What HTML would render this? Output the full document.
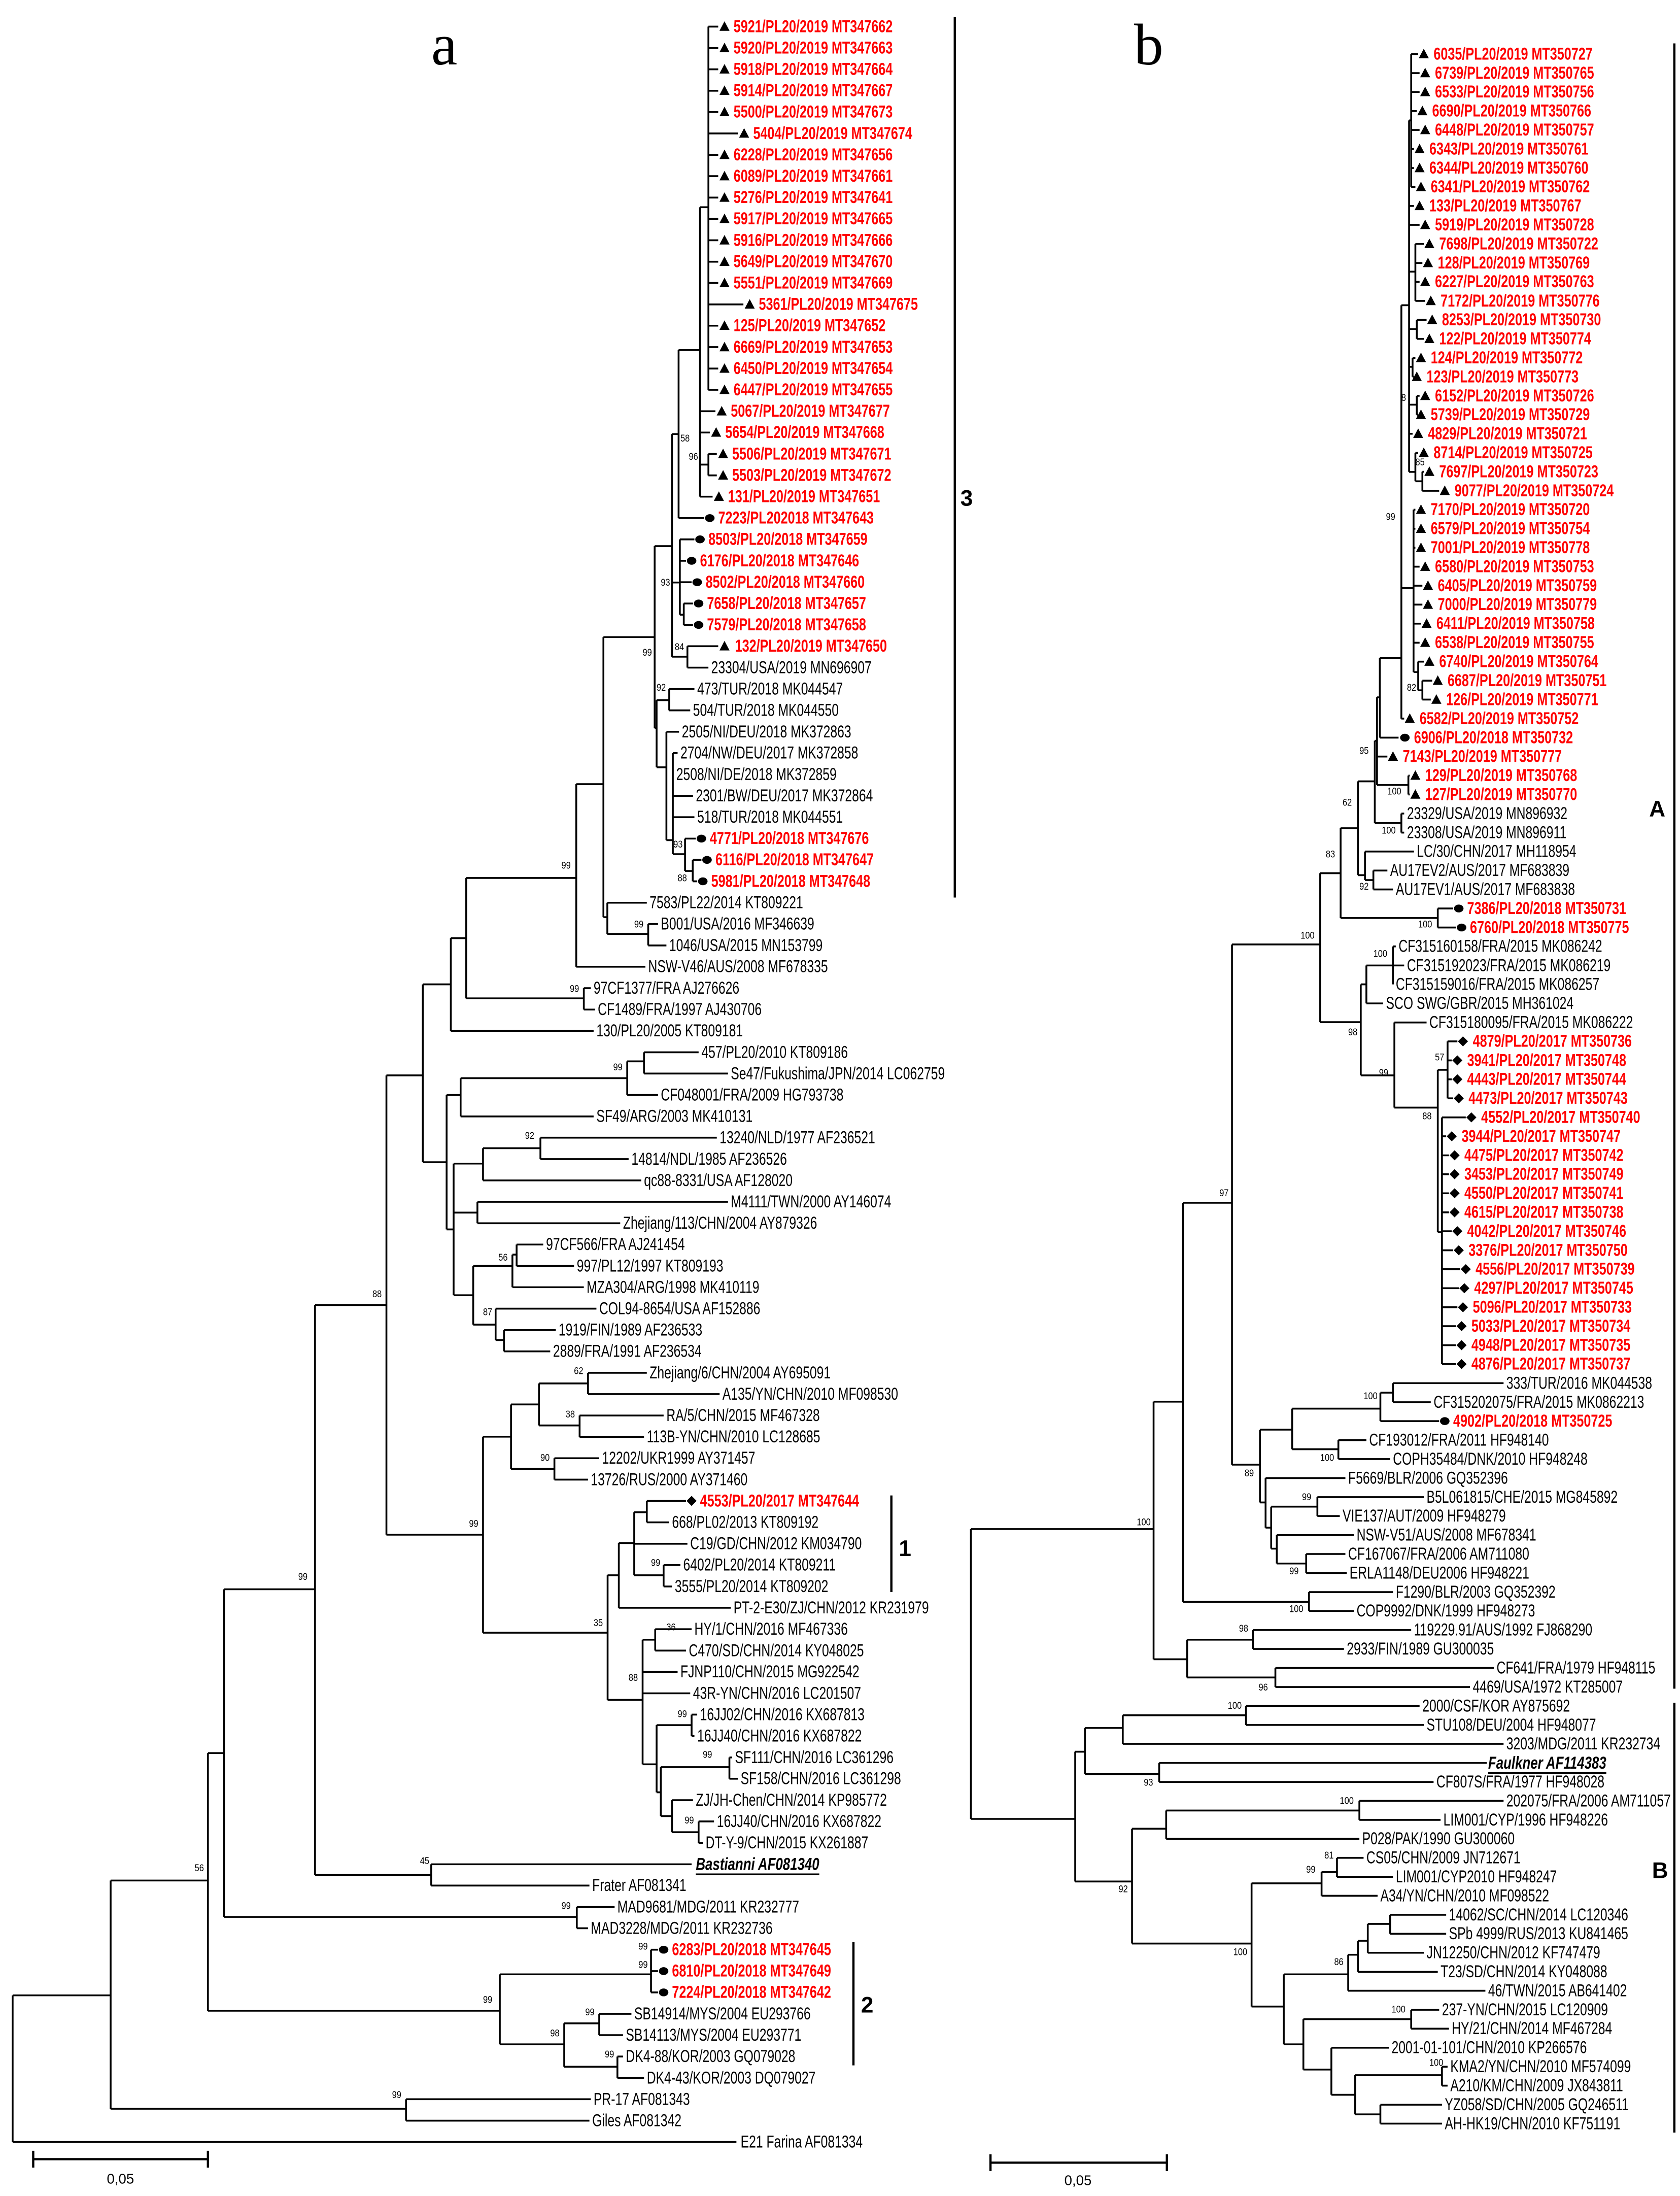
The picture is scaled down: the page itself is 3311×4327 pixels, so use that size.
<!DOCTYPE html>
<html><head><meta charset="utf-8"><style>
html,body{margin:0;padding:0;background:#fff}
svg{display:block}
text{font-family:"Liberation Sans",Arial,sans-serif;dominant-baseline:central;transform-box:fill-box;transform-origin:left center}
.k{font-size:12.5px;transform:scaleX(.717)}
.r{font-size:12.5px;font-weight:bold;fill:#f00;transform:scaleX(.73)}
.u{font-size:12.5px;font-weight:bold;font-style:italic;text-decoration:underline;transform:scaleX(.75)}
.bs{font-size:7px;transform:scaleX(.85)}
.L{font-family:"Liberation Serif",serif;font-size:42px;dominant-baseline:auto;transform:none}
.g{font-size:16px;font-weight:bold;transform:none}
.sc{font-size:10px;transform:none;text-anchor:middle}
</style></head><body>
<svg width="3311" height="4327" viewBox="0 0 1200 1568.3" xmlns="http://www.w3.org/2000/svg">
<defs>
<path id="t" d="M-3.6 3H3.6L0 -3.8Z"/>
<ellipse id="c" rx="3.4" ry="2.8"/>
<path id="d" d="M0 -3.6L3.6 0L0 3.6L-3.6 0Z"/>
</defs>
<rect width="1200" height="1568.3" fill="#fff"/>
<text class="L" x="308" y="46">a</text>
<text class="L" x="810" y="46">b</text>

<g fill="none" stroke="#000" stroke-width="1.3">
<path d="M9 1425V1529.7M9 1425H79M9 1529.7H526
M79 1343V1506M79 1343H148.5M79 1506H290
M290 1499.2V1514.5M290 1499.2H422M290 1514.5H421
M148.5 1252V1436M148.5 1252H160M148.5 1436H357
M357 1410V1460M357 1410H465M357 1460H403
M465 1392.4V1422.9M465 1392.4H470M465 1407.7H470M465 1422.9H470
M403 1445V1476M403 1445H428M403 1476H441
M428 1438.2V1453.4M428 1438.2H451M428 1453.4H445
M441 1468.7V1484M441 1468.7H445M441 1484H460
M160 1135V1369M160 1135H225M160 1369H412
M412 1361.9V1377.1M412 1361.9H439M412 1377.1H420
M225 932V1339M225 932H276M225 1339H308
M308 1331.4V1346.6M308 1331.4H494M308 1346.6H421
M276 768V1096M276 768H302M276 1096H345
M345 1026V1166M345 1026H365M345 1166H434
M365 1003V1049M365 1003H385M365 1049H396
M385 988V1018M385 988H420M385 1018H414
M420 980.4V995.6M420 980.4H462M420 995.6H514
M414 1010.9V1026.2M414 1010.9H474M414 1026.2H460
M396 1041.4V1056.7M396 1041.4H428M396 1056.7H420
M434 1125V1214M434 1125H442M434 1214H459
M442 1102V1148.2M442 1102H453M442 1148.2H522
M453 1080V1125M453 1080H462M453 1102.5H491M453 1125H474
M462 1071.9V1087.2M462 1071.9H490M462 1087.2H478
M474 1117.7V1133M474 1117.7H486M474 1133H480
M459 1171V1260M459 1171H468M459 1194H484M459 1209.3H493M459 1260H469
M468 1163.5V1178.8M468 1163.5H494M468 1178.8H490
M469 1232V1280M469 1232H494M469 1280H472
M494 1224.5V1239.8M494 1224.5H498M494 1239.8H496
M472 1262V1297M472 1262H521M472 1297H480
M521 1255.1V1270.3M521 1255.1H523M521 1270.3H527
M480 1285.6V1308.5M480 1285.6H495M480 1308.5H499
M499 1300.8V1316.1M499 1300.8H510M499 1316.1H502
M302 703V830M302 703H322M302 830H319
M319 782V878M319 782H329M319 878H324
M329 770V797.3M329 770H448M329 797.3H424
M448 758V782M448 758H460M448 782H470
M460 751.5V766.7M460 751.5H499M460 766.7H520
M324 831V925M324 831H345M324 866H341M324 925H338
M345 820V843M345 820H386M345 843H458
M386 812.5V827.8M386 812.5H512M386 827.8H449
M341 858.3V873.6M341 858.3H520M341 873.6H443
M338 904V946M338 904H366M338 946H354
M366 896V919.3M366 896H369M366 919.3H417
M369 888.8V904.1M369 888.8H388M369 904.1H410
M354 934.6V957M354 934.6H426M354 957H360
M360 949.9V965.1M360 949.9H397M360 965.1H393
M322 670V736.2M322 670H333M322 736.2H424
M333 627V713M333 627H411.6M333 713H417
M417 705.7V721M417 705.7H422M417 721H425
M411.6 560V690.4M411.6 560H431M411.6 690.4H461
M431 455V655M431 455H467.6M431 655H433.8
M433.8 644.7V667M433.8 644.7H462M433.8 667H463
M463 659.9V675.2M463 659.9H470M463 675.2H476
M467.6 390V520M467.6 390H480M467.6 520H469
M469 500V548M469 500H478M469 548H476
M478 492.1V507.3M478 492.1H496M478 507.3H493
M476 522.6V600M476 522.6H485M476 600H480.6
M480.6 537.8V610M480.6 537.8H484M480.6 568.4H495M480.6 583.6H496M480.6 610H489.3
M489.3 598.9V622M489.3 598.9H497M489.3 622H494.8
M494.8 614.1V629.4M494.8 614.1H501M494.8 629.4H498
M480 310V469M480 310H484.7M480 416H485.6M480 469H491
M491 461.5V476.8M491 461.5H513M491 476.8H506
M485.6 385.2V439M485.6 385.2H496M485.6 400.5H490M485.6 415.8H494M485.6 439H488.4
M488.4 431V446.3M488.4 431H495M488.4 446.3H495
M484.7 250V370M484.7 250H500M484.7 370H503
M500 148V354.7M500 148H506M500 293.7H511M500 308.9H507M500 331.8H506M500 354.7H509
M506 324.2V339.5M506 324.2H512M506 339.5H512
M506 19V278.4M506 19H513M506 34.3H513M506 49.5H513M506 64.8H513M506 80H513M506 95.3H527M506 110.6H513M506 125.8H513M506 141.1H513M506 156.3H513M506 171.6H513M506 186.9H513M506 202.1H513M506 217.4H531M506 232.6H513M506 247.9H513M506 263.2H513M506 278.4H513"/>

<path d="M693.5 1092V1299M693.5 1092H824M693.5 1299H768
M824 1001V1185M824 1001H845M824 1185H848
M848 1171V1198M848 1171H895M848 1198H911
M895 1164.1V1177.6M895 1164.1H1008M895 1177.6H960
M911 1191.2V1204.8M911 1191.2H1067M911 1204.8H1050
M845 859V1144M845 859H880M845 1144H935
M935 1137V1150.5M935 1137H995M935 1150.5H967
M880 674.5V1046M880 674.5H943M880 1046H900
M900 1021V1073M900 1021H923M900 1073H904
M923 1006V1035M923 1006H986M923 1035H956
M986 994.6V1014.9M986 994.6H995M986 1014.9H1028
M995 987.8V1001.4M995 987.8H1074M995 1001.4H1022
M956 1028.5V1042M956 1028.5H976M956 1042H993
M904 1055.6V1091M904 1055.6H961M904 1091H908
M908 1076V1106M908 1076H941M908 1106H912
M941 1069.2V1082.7M941 1069.2H1017M941 1082.7H957
M912 1096.3V1116.6M912 1096.3H967M912 1116.6H933
M933 1109.8V1123.4M933 1109.8H961M933 1123.4H962
M943 623.6V730M943 623.6H957.6M943 730H972
M972 703V768M972 703H976M972 768H996
M976 689.5V716.6M976 716.6H988M976 689.5H995
M995 675.9V703M995 675.9H997M995 689.5H1003
M996 730.2V791M996 730.2H1019M996 791H1027
M1027 764V880M1027 764H1034M1027 880H1030
M1034 743.7V784.4M1034 743.7H1041M1034 757.3H1037M1034 770.8H1037M1034 784.4H1038
M1030 798V974.2M1030 798H1047M1030 811.5H1033M1030 825.1H1035M1030 838.6H1035M1030 852.2H1035M1030 865.8H1035M1030 879.3H1037M1030 892.9H1038M1030 906.4H1043M1030 920H1042M1030 933.6H1041M1030 947.1H1040M1030 960.7H1040M1030 974.2H1040
M957.6 591.5V655.6M957.6 591.5H970M957.6 655.6H1027
M1027 648.8V662.4M1027 648.8H1038M1027 662.4H1040
M970 558V625M970 558H982M970 625H975
M975 608.1V628.5M975 608.1H1010M975 628.5H981
M981 621.7V635.2M981 621.7H991M981 635.2H995
M982 529V587.8M982 529H983.6M982 587.8H1001
M1001 581V594.6M1001 581H1003M1001 594.6H1003
M983.6 498V560.6M983.6 498H985.6M983.6 540.3H991M983.6 560.6H1006
M1006 553.9V567.4M1006 553.9H1007M1006 567.4H1007
M985.6 470V526.8M985.6 470H1001M985.6 526.8H999
M1001 218V513.2M1001 218H1006.5M1001 420H1009.7M1001 513.2H1003
M1006.5 86V337M1006.5 86H1008M1006.5 147.1H1010M1006.5 160.6H1014M1006.5 194H1011M1006.5 235H1012M1006.5 262H1009M1006.5 289H1012M1006.5 309.8H1009M1006.5 337H1011
M1008 38.6V133.5M1008 38.6H1013M1008 52.2H1014M1008 65.7H1014M1008 79.3H1012M1008 92.8H1014M1008 106.4H1010M1008 120H1010M1008 133.5H1011
M1011 174.2V214.9M1011 174.2H1017M1011 187.8H1016M1011 201.3H1014M1011 214.9H1018
M1012 228.4V242M1012 228.4H1019M1012 242H1017
M1009 255.6V269.1M1009 255.6H1011M1009 269.1H1010
M1012 282.7V296.2M1012 282.7H1014M1012 296.2H1013
M1011 323.4V343.7M1011 323.4H1013M1011 343.7H1016
M1016 336.9V350.5M1016 336.9H1017M1016 350.5H1028
M1009.7 364V480M1009.7 364H1011M1009.7 377.6H1011M1009.7 391.2H1011M1009.7 404.7H1014M1009.7 418.3H1016M1009.7 431.8H1016M1009.7 445.4H1015M1009.7 459H1014M1009.7 480H1013
M1013 472.5V493M1013 472.5H1017M1013 493H1016
M1016 486.1V499.6M1016 486.1H1023M1016 499.6H1022
M768 1251V1343.7M768 1251H775M768 1343.7H808.6
M775 1234V1267M775 1234H802M775 1267H828
M802 1225V1245.4M802 1225H890M802 1245.4H1074
M890 1218.3V1231.9M890 1218.3H1014M890 1231.9H1017
M828 1259V1272.6M828 1259H1062M828 1272.6H1024
M808.6 1306V1388M808.6 1306H833M808.6 1388H894
M833 1293V1313.2M833 1293H971M833 1313.2H971
M971 1286.1V1299.7M971 1286.1H1074M971 1299.7H1029
M894 1345V1433M894 1345H944M894 1433H917
M944 1337V1353.9M944 1337H955M944 1353.9H984
M955 1326.8V1340.4M955 1326.8H974M955 1340.4H995
M917 1410V1460M917 1410H963M917 1460H931
M963 1396V1421.7M963 1396H970M963 1421.7H1061
M970 1386V1408.2M970 1386H977M970 1408.2H1027
M977 1374V1394.6M977 1374H993M977 1394.6H1017
M993 1367.5V1381M993 1367.5H1033M993 1381H1033
M931 1442V1478M931 1442H1008M931 1478H951
M1008 1435.3V1448.8M1008 1435.3H1028M1008 1448.8H1035
M951 1462.4V1496M951 1462.4H992M951 1496H968
M968 1482V1510M968 1482H1030M968 1510H986
M1030 1476V1489.5M1030 1476H1034M1030 1489.5H1034
M986 1503.1V1516.6M986 1503.1H1030M986 1516.6H1030"/>
</g>
<g fill="none" stroke="#000" stroke-width="1.6">
<path d="M682 12V641M636.7 1068V1137M609.6 1387V1475M1196 31V1206M1196 1216V1523"/>
<path d="M23.7 1542H148.5M23.7 1536V1548M148.5 1536V1548M707.5 1544.5H833.5M707.5 1538.5V1550.5M833.5 1538.5V1550.5"/>
</g>
<text class="g" x="686" y="356">3</text>
<text class="g" x="642" y="1106">1</text>
<text class="g" x="615" y="1432">2</text>
<text class="g" x="1178" y="578">A</text>
<text class="g" x="1180" y="1336">B</text>
<text class="sc" x="86" y="1556">0,05</text>
<text class="sc" x="770" y="1557">0,05</text>

<g fill="#000">
<use href="#t" x="517.5" y="19"/><use href="#t" x="517.5" y="34.3"/><use href="#t" x="517.5" y="49.5"/><use href="#t" x="517.5" y="64.8"/><use href="#t" x="517.5" y="80"/><use href="#t" x="531.5" y="95.3"/><use href="#t" x="517.5" y="110.6"/><use href="#t" x="517.5" y="125.8"/><use href="#t" x="517.5" y="141.1"/><use href="#t" x="517.5" y="156.3"/><use href="#t" x="517.5" y="171.6"/><use href="#t" x="517.5" y="186.9"/><use href="#t" x="517.5" y="202.1"/><use href="#t" x="535.5" y="217.4"/><use href="#t" x="517.5" y="232.6"/><use href="#t" x="517.5" y="247.9"/><use href="#t" x="517.5" y="263.2"/><use href="#t" x="517.5" y="278.4"/><use href="#t" x="515.5" y="293.7"/><use href="#t" x="511.5" y="308.9"/><use href="#t" x="516.5" y="324.2"/><use href="#t" x="516.5" y="339.5"/><use href="#t" x="513.5" y="354.7"/>
<use href="#c" x="507" y="370"/><use href="#c" x="500" y="385.2"/><use href="#c" x="494" y="400.5"/><use href="#c" x="498" y="415.8"/><use href="#c" x="499" y="431"/><use href="#c" x="499" y="446.3"/>
<use href="#t" x="517.5" y="461.5"/>
<use href="#c" x="501" y="598.9"/><use href="#c" x="505" y="614.1"/><use href="#c" x="502" y="629.4"/>
<use href="#d" x="494" y="1071.9"/>
<use href="#c" x="474" y="1392.4"/><use href="#c" x="474" y="1407.7"/><use href="#c" x="474" y="1422.9"/>
<use href="#t" x="1017" y="38.6"/><use href="#t" x="1018" y="52.2"/><use href="#t" x="1018" y="65.7"/><use href="#t" x="1016" y="79.3"/><use href="#t" x="1018" y="92.8"/><use href="#t" x="1014" y="106.4"/><use href="#t" x="1014" y="120"/><use href="#t" x="1015" y="133.5"/><use href="#t" x="1014" y="147.1"/><use href="#t" x="1018" y="160.6"/><use href="#t" x="1021" y="174.2"/><use href="#t" x="1020" y="187.8"/><use href="#t" x="1018" y="201.3"/><use href="#t" x="1022" y="214.9"/><use href="#t" x="1023" y="228.4"/><use href="#t" x="1021" y="242"/><use href="#t" x="1015" y="255.6"/><use href="#t" x="1012" y="269.1"/><use href="#t" x="1018" y="282.7"/><use href="#t" x="1015" y="296.2"/><use href="#t" x="1013" y="309.8"/><use href="#t" x="1017" y="323.4"/><use href="#t" x="1021" y="336.9"/><use href="#t" x="1032" y="350.5"/><use href="#t" x="1015" y="364"/><use href="#t" x="1015" y="377.6"/><use href="#t" x="1015" y="391.2"/><use href="#t" x="1018" y="404.7"/><use href="#t" x="1020" y="418.3"/><use href="#t" x="1020" y="431.8"/><use href="#t" x="1019" y="445.4"/><use href="#t" x="1018" y="459"/><use href="#t" x="1021" y="472.5"/><use href="#t" x="1027" y="486.1"/><use href="#t" x="1026" y="499.6"/><use href="#t" x="1007" y="513.2"/>
<use href="#c" x="1003.5" y="526.8"/><use href="#t" x="995" y="540.3"/><use href="#t" x="1011" y="553.9"/><use href="#t" x="1011" y="567.4"/>
<use href="#c" x="1042" y="648.8"/><use href="#c" x="1044" y="662.4"/>
<use href="#d" x="1045" y="743.7"/><use href="#d" x="1041" y="757.3"/><use href="#d" x="1041" y="770.8"/><use href="#d" x="1042" y="784.4"/><use href="#d" x="1051" y="798"/><use href="#d" x="1037" y="811.5"/><use href="#d" x="1039" y="825.1"/><use href="#d" x="1039" y="838.6"/><use href="#d" x="1039" y="852.2"/><use href="#d" x="1039" y="865.8"/><use href="#d" x="1041" y="879.3"/><use href="#d" x="1042" y="892.9"/><use href="#d" x="1047" y="906.4"/><use href="#d" x="1046" y="920"/><use href="#d" x="1045" y="933.6"/><use href="#d" x="1044" y="947.1"/><use href="#d" x="1044" y="960.7"/><use href="#d" x="1044" y="974.2"/>
<use href="#c" x="1032" y="1014.9"/>
</g>

<g>
<text class="r" x="524" y="19">5921/PL20/2019 MT347662</text>
<text class="r" x="524" y="34.3">5920/PL20/2019 MT347663</text>
<text class="r" x="524" y="49.5">5918/PL20/2019 MT347664</text>
<text class="r" x="524" y="64.8">5914/PL20/2019 MT347667</text>
<text class="r" x="524" y="80">5500/PL20/2019 MT347673</text>
<text class="r" x="538" y="95.3">5404/PL20/2019 MT347674</text>
<text class="r" x="524" y="110.6">6228/PL20/2019 MT347656</text>
<text class="r" x="524" y="125.8">6089/PL20/2019 MT347661</text>
<text class="r" x="524" y="141.1">5276/PL20/2019 MT347641</text>
<text class="r" x="524" y="156.3">5917/PL20/2019 MT347665</text>
<text class="r" x="524" y="171.6">5916/PL20/2019 MT347666</text>
<text class="r" x="524" y="186.9">5649/PL20/2019 MT347670</text>
<text class="r" x="524" y="202.1">5551/PL20/2019 MT347669</text>
<text class="r" x="542" y="217.4">5361/PL20/2019 MT347675</text>
<text class="r" x="524" y="232.6">125/PL20/2019 MT347652</text>
<text class="r" x="524" y="247.9">6669/PL20/2019 MT347653</text>
<text class="r" x="524" y="263.2">6450/PL20/2019 MT347654</text>
<text class="r" x="524" y="278.4">6447/PL20/2019 MT347655</text>
<text class="r" x="522" y="293.7">5067/PL20/2019 MT347677</text>
<text class="r" x="518" y="308.9">5654/PL20/2019 MT347668</text>
<text class="r" x="523" y="324.2">5506/PL20/2019 MT347671</text>
<text class="r" x="523" y="339.5">5503/PL20/2019 MT347672</text>
<text class="r" x="520" y="354.7">131/PL20/2019 MT347651</text>
<text class="r" x="513" y="370">7223/PL202018 MT347643</text>
<text class="r" x="506" y="385.2">8503/PL20/2018 MT347659</text>
<text class="r" x="500" y="400.5">6176/PL20/2018 MT347646</text>
<text class="r" x="504" y="415.8">8502/PL20/2018 MT347660</text>
<text class="r" x="505" y="431">7658/PL20/2018 MT347657</text>
<text class="r" x="505" y="446.3">7579/PL20/2018 MT347658</text>
<text class="r" x="525" y="461.5">132/PL20/2019 MT347650</text>
<text class="k" x="508" y="476.8">23304/USA/2019 MN696907</text>
<text class="k" x="498" y="492.1">473/TUR/2018 MK044547</text>
<text class="k" x="495" y="507.3">504/TUR/2018 MK044550</text>
<text class="k" x="487" y="522.6">2505/NI/DEU/2018 MK372863</text>
<text class="k" x="486" y="537.8">2704/NW/DEU/2017 MK372858</text>
<text class="k" x="483" y="553.1">2508/NI/DE/2018 MK372859</text>
<text class="k" x="497" y="568.4">2301/BW/DEU/2017 MK372864</text>
<text class="k" x="498" y="583.6">518/TUR/2018 MK044551</text>
<text class="r" x="507" y="598.9">4771/PL20/2018 MT347676</text>
<text class="r" x="511" y="614.1">6116/PL20/2018 MT347647</text>
<text class="r" x="508" y="629.4">5981/PL20/2018 MT347648</text>
<text class="k" x="464" y="644.7">7583/PL22/2014 KT809221</text>
<text class="k" x="472" y="659.9">B001/USA/2016 MF346639</text>
<text class="k" x="478" y="675.2">1046/USA/2015 MN153799</text>
<text class="k" x="463" y="690.4">NSW-V46/AUS/2008 MF678335</text>
<text class="k" x="424" y="705.7">97CF1377/FRA AJ276626</text>
<text class="k" x="427" y="721">CF1489/FRA/1997 AJ430706</text>
<text class="k" x="426" y="736.2">130/PL20/2005 KT809181</text>
<text class="k" x="501" y="751.5">457/PL20/2010 KT809186</text>
<text class="k" x="522" y="766.7">Se47/Fukushima/JPN/2014 LC062759</text>
<text class="k" x="472" y="782">CF048001/FRA/2009 HG793738</text>
<text class="k" x="426" y="797.3">SF49/ARG/2003 MK410131</text>
<text class="k" x="514" y="812.5">13240/NLD/1977 AF236521</text>
<text class="k" x="451" y="827.8">14814/NDL/1985 AF236526</text>
<text class="k" x="460" y="843">qc88-8331/USA AF128020</text>
<text class="k" x="522" y="858.3">M4111/TWN/2000 AY146074</text>
<text class="k" x="445" y="873.6">Zhejiang/113/CHN/2004 AY879326</text>
<text class="k" x="390" y="888.8">97CF566/FRA AJ241454</text>
<text class="k" x="412" y="904.1">997/PL12/1997 KT809193</text>
<text class="k" x="419" y="919.3">MZA304/ARG/1998 MK410119</text>
<text class="k" x="428" y="934.6">COL94-8654/USA AF152886</text>
<text class="k" x="399" y="949.9">1919/FIN/1989 AF236533</text>
<text class="k" x="395" y="965.1">2889/FRA/1991 AF236534</text>
<text class="k" x="464" y="980.4">Zhejiang/6/CHN/2004 AY695091</text>
<text class="k" x="516" y="995.6">A135/YN/CHN/2010 MF098530</text>
<text class="k" x="476" y="1010.9">RA/5/CHN/2015 MF467328</text>
<text class="k" x="462" y="1026.2">113B-YN/CHN/2010 LC128685</text>
<text class="k" x="430" y="1041.4">12202/UKR1999 AY371457</text>
<text class="k" x="422" y="1056.7">13726/RUS/2000 AY371460</text>
<text class="r" x="500" y="1071.9">4553/PL20/2017 MT347644</text>
<text class="k" x="480" y="1087.2">668/PL02/2013 KT809192</text>
<text class="k" x="493" y="1102.5">C19/GD/CHN/2012 KM034790</text>
<text class="k" x="488" y="1117.7">6402/PL20/2014 KT809211</text>
<text class="k" x="482" y="1133">3555/PL20/2014 KT809202</text>
<text class="k" x="524" y="1148.2">PT-2-E30/ZJ/CHN/2012 KR231979</text>
<text class="k" x="496" y="1163.5">HY/1/CHN/2016 MF467336</text>
<text class="k" x="492" y="1178.8">C470/SD/CHN/2014 KY048025</text>
<text class="k" x="486" y="1194">FJNP110/CHN/2015 MG922542</text>
<text class="k" x="495" y="1209.3">43R-YN/CHN/2016 LC201507</text>
<text class="k" x="500" y="1224.5">16JJ02/CHN/2016 KX687813</text>
<text class="k" x="498" y="1239.8">16JJ40/CHN/2016 KX687822</text>
<text class="k" x="525" y="1255.1">SF111/CHN/2016 LC361296</text>
<text class="k" x="529" y="1270.3">SF158/CHN/2016 LC361298</text>
<text class="k" x="497" y="1285.6">ZJ/JH-Chen/CHN/2014 KP985772</text>
<text class="k" x="512" y="1300.8">16JJ40/CHN/2016 KX687822</text>
<text class="k" x="504" y="1316.1">DT-Y-9/CHN/2015 KX261887</text>
<text class="u" x="497" y="1331.4">Bastianni AF081340</text>
<text class="k" x="423" y="1346.6">Frater AF081341</text>
<text class="k" x="441" y="1361.9">MAD9681/MDG/2011 KR232777</text>
<text class="k" x="422" y="1377.1">MAD3228/MDG/2011 KR232736</text>
<text class="r" x="480" y="1392.4">6283/PL20/2018 MT347645</text>
<text class="r" x="480" y="1407.7">6810/PL20/2018 MT347649</text>
<text class="r" x="480" y="1422.9">7224/PL20/2018 MT347642</text>
<text class="k" x="453" y="1438.2">SB14914/MYS/2004 EU293766</text>
<text class="k" x="447" y="1453.4">SB14113/MYS/2004 EU293771</text>
<text class="k" x="447" y="1468.7">DK4-88/KOR/2003 GQ079028</text>
<text class="k" x="462" y="1484">DK4-43/KOR/2003 DQ079027</text>
<text class="k" x="424" y="1499.2">PR-17 AF081343</text>
<text class="k" x="423" y="1514.5">Giles AF081342</text>
<text class="k" x="529" y="1529.7">E21 Farina AF081334</text>
</g>

<g>
<text class="r" x="1024" y="38.6">6035/PL20/2019 MT350727</text>
<text class="r" x="1025" y="52.2">6739/PL20/2019 MT350765</text>
<text class="r" x="1025" y="65.7">6533/PL20/2019 MT350756</text>
<text class="r" x="1023" y="79.3">6690/PL20/2019 MT350766</text>
<text class="r" x="1025" y="92.8">6448/PL20/2019 MT350757</text>
<text class="r" x="1021" y="106.4">6343/PL20/2019 MT350761</text>
<text class="r" x="1021" y="120">6344/PL20/2019 MT350760</text>
<text class="r" x="1022" y="133.5">6341/PL20/2019 MT350762</text>
<text class="r" x="1021" y="147.1">133/PL20/2019 MT350767</text>
<text class="r" x="1025" y="160.6">5919/PL20/2019 MT350728</text>
<text class="r" x="1028" y="174.2">7698/PL20/2019 MT350722</text>
<text class="r" x="1027" y="187.8">128/PL20/2019 MT350769</text>
<text class="r" x="1025" y="201.3">6227/PL20/2019 MT350763</text>
<text class="r" x="1029" y="214.9">7172/PL20/2019 MT350776</text>
<text class="r" x="1030" y="228.4">8253/PL20/2019 MT350730</text>
<text class="r" x="1028" y="242">122/PL20/2019 MT350774</text>
<text class="r" x="1022" y="255.6">124/PL20/2019 MT350772</text>
<text class="r" x="1019" y="269.1">123/PL20/2019 MT350773</text>
<text class="r" x="1025" y="282.7">6152/PL20/2019 MT350726</text>
<text class="r" x="1022" y="296.2">5739/PL20/2019 MT350729</text>
<text class="r" x="1020" y="309.8">4829/PL20/2019 MT350721</text>
<text class="r" x="1024" y="323.4">8714/PL20/2019 MT350725</text>
<text class="r" x="1028" y="336.9">7697/PL20/2019 MT350723</text>
<text class="r" x="1039" y="350.5">9077/PL20/2019 MT350724</text>
<text class="r" x="1022" y="364">7170/PL20/2019 MT350720</text>
<text class="r" x="1022" y="377.6">6579/PL20/2019 MT350754</text>
<text class="r" x="1022" y="391.2">7001/PL20/2019 MT350778</text>
<text class="r" x="1025" y="404.7">6580/PL20/2019 MT350753</text>
<text class="r" x="1027" y="418.3">6405/PL20/2019 MT350759</text>
<text class="r" x="1027" y="431.8">7000/PL20/2019 MT350779</text>
<text class="r" x="1026" y="445.4">6411/PL20/2019 MT350758</text>
<text class="r" x="1025" y="459">6538/PL20/2019 MT350755</text>
<text class="r" x="1028" y="472.5">6740/PL20/2019 MT350764</text>
<text class="r" x="1034" y="486.1">6687/PL20/2019 MT350751</text>
<text class="r" x="1033" y="499.6">126/PL20/2019 MT350771</text>
<text class="r" x="1014" y="513.2">6582/PL20/2019 MT350752</text>
<text class="r" x="1010" y="526.8">6906/PL20/2018 MT350732</text>
<text class="r" x="1002" y="540.3">7143/PL20/2019 MT350777</text>
<text class="r" x="1018" y="553.9">129/PL20/2019 MT350768</text>
<text class="r" x="1018" y="567.4">127/PL20/2019 MT350770</text>
<text class="k" x="1005" y="581">23329/USA/2019 MN896932</text>
<text class="k" x="1005" y="594.6">23308/USA/2019 MN896911</text>
<text class="k" x="1012" y="608.1">LC/30/CHN/2017 MH118954</text>
<text class="k" x="993" y="621.7">AU17EV2/AUS/2017 MF683839</text>
<text class="k" x="997" y="635.2">AU17EV1/AUS/2017 MF683838</text>
<text class="r" x="1048" y="648.8">7386/PL20/2018 MT350731</text>
<text class="r" x="1050" y="662.4">6760/PL20/2018 MT350775</text>
<text class="k" x="999" y="675.9">CF315160158/FRA/2015 MK086242</text>
<text class="k" x="1005" y="689.5">CF315192023/FRA/2015 MK086219</text>
<text class="k" x="997" y="703">CF315159016/FRA/2015 MK086257</text>
<text class="k" x="990" y="716.6">SCO SWG/GBR/2015 MH361024</text>
<text class="k" x="1021" y="730.2">CF315180095/FRA/2015 MK086222</text>
<text class="r" x="1052" y="743.7">4879/PL20/2017 MT350736</text>
<text class="r" x="1048" y="757.3">3941/PL20/2017 MT350748</text>
<text class="r" x="1048" y="770.8">4443/PL20/2017 MT350744</text>
<text class="r" x="1049" y="784.4">4473/PL20/2017 MT350743</text>
<text class="r" x="1058" y="798">4552/PL20/2017 MT350740</text>
<text class="r" x="1044" y="811.5">3944/PL20/2017 MT350747</text>
<text class="r" x="1046" y="825.1">4475/PL20/2017 MT350742</text>
<text class="r" x="1046" y="838.6">3453/PL20/2017 MT350749</text>
<text class="r" x="1046" y="852.2">4550/PL20/2017 MT350741</text>
<text class="r" x="1046" y="865.8">4615/PL20/2017 MT350738</text>
<text class="r" x="1048" y="879.3">4042/PL20/2017 MT350746</text>
<text class="r" x="1049" y="892.9">3376/PL20/2017 MT350750</text>
<text class="r" x="1054" y="906.4">4556/PL20/2017 MT350739</text>
<text class="r" x="1053" y="920">4297/PL20/2017 MT350745</text>
<text class="r" x="1052" y="933.6">5096/PL20/2017 MT350733</text>
<text class="r" x="1051" y="947.1">5033/PL20/2017 MT350734</text>
<text class="r" x="1051" y="960.7">4948/PL20/2017 MT350735</text>
<text class="r" x="1051" y="974.2">4876/PL20/2017 MT350737</text>
<text class="k" x="1076" y="987.8">333/TUR/2016 MK044538</text>
<text class="k" x="1024" y="1001.4">CF315202075/FRA/2015 MK0862213</text>
<text class="r" x="1038" y="1014.9">4902/PL20/2018 MT350725</text>
<text class="k" x="978" y="1028.5">CF193012/FRA/2011 HF948140</text>
<text class="k" x="995" y="1042">COPH35484/DNK/2010 HF948248</text>
<text class="k" x="963" y="1055.6">F5669/BLR/2006 GQ352396</text>
<text class="k" x="1019" y="1069.2">B5L061815/CHE/2015 MG845892</text>
<text class="k" x="959" y="1082.7">VIE137/AUT/2009 HF948279</text>
<text class="k" x="969" y="1096.3">NSW-V51/AUS/2008 MF678341</text>
<text class="k" x="963" y="1109.8">CF167067/FRA/2006 AM711080</text>
<text class="k" x="964" y="1123.4">ERLA1148/DEU2006 HF948221</text>
<text class="k" x="997" y="1137">F1290/BLR/2003 GQ352392</text>
<text class="k" x="969" y="1150.5">COP9992/DNK/1999 HF948273</text>
<text class="k" x="1010" y="1164.1">119229.91/AUS/1992 FJ868290</text>
<text class="k" x="962" y="1177.6">2933/FIN/1989 GU300035</text>
<text class="k" x="1069" y="1191.2">CF641/FRA/1979 HF948115</text>
<text class="k" x="1052" y="1204.8">4469/USA/1972 KT285007</text>
<text class="k" x="1016" y="1218.3">2000/CSF/KOR AY875692</text>
<text class="k" x="1019" y="1231.9">STU108/DEU/2004 HF948077</text>
<text class="k" x="1076" y="1245.4">3203/MDG/2011 KR232734</text>
<text class="u" x="1063" y="1259">Faulkner AF114383</text>
<text class="k" x="1026" y="1272.6">CF807S/FRA/1977 HF948028</text>
<text class="k" x="1076" y="1286.1">202075/FRA/2006 AM711057</text>
<text class="k" x="1031" y="1299.7">LIM001/CYP/1996 HF948226</text>
<text class="k" x="973" y="1313.2">P028/PAK/1990 GU300060</text>
<text class="k" x="976" y="1326.8">CS05/CHN/2009 JN712671</text>
<text class="k" x="997" y="1340.4">LIM001/CYP2010 HF948247</text>
<text class="k" x="986" y="1353.9">A34/YN/CHN/2010 MF098522</text>
<text class="k" x="1035" y="1367.5">14062/SC/CHN/2014 LC120346</text>
<text class="k" x="1035" y="1381">SPb 4999/RUS/2013 KU841465</text>
<text class="k" x="1019" y="1394.6">JN12250/CHN/2012 KF747479</text>
<text class="k" x="1029" y="1408.2">T23/SD/CHN/2014 KY048088</text>
<text class="k" x="1063" y="1421.7">46/TWN/2015 AB641402</text>
<text class="k" x="1030" y="1435.3">237-YN/CHN/2015 LC120909</text>
<text class="k" x="1037" y="1448.8">HY/21/CHN/2014 MF467284</text>
<text class="k" x="994" y="1462.4">2001-01-101/CHN/2010 KP266576</text>
<text class="k" x="1036" y="1476">KMA2/YN/CHN/2010 MF574099</text>
<text class="k" x="1036" y="1489.5">A210/KM/CHN/2009 JX843811</text>
<text class="k" x="1032" y="1503.1">YZ058/SD/CHN/2005 GQ246511</text>
<text class="k" x="1032" y="1516.6">AH-HK19/CHN/2010 KF751191</text>
</g>

<g>
<text class="bs" x="401" y="618">99</text>
<text class="bs" x="453" y="660">99</text>
<text class="bs" x="407" y="706">99</text>
<text class="bs" x="438" y="762">99</text>
<text class="bs" x="375" y="811">92</text>
<text class="bs" x="356" y="898">56</text>
<text class="bs" x="345" y="937">87</text>
<text class="bs" x="266" y="924">88</text>
<text class="bs" x="410" y="979">62</text>
<text class="bs" x="404" y="1010">38</text>
<text class="bs" x="386" y="1041">90</text>
<text class="bs" x="335" y="1088">99</text>
<text class="bs" x="465" y="1116">99</text>
<text class="bs" x="424" y="1159">35</text>
<text class="bs" x="476" y="1162">36</text>
<text class="bs" x="449" y="1198">88</text>
<text class="bs" x="484" y="1224">99</text>
<text class="bs" x="502" y="1253">99</text>
<text class="bs" x="489" y="1300">99</text>
<text class="bs" x="213" y="1126">99</text>
<text class="bs" x="139" y="1334">56</text>
<text class="bs" x="401" y="1361">99</text>
<text class="bs" x="456" y="1390">99</text>
<text class="bs" x="456" y="1403">99</text>
<text class="bs" x="345" y="1428">99</text>
<text class="bs" x="418" y="1437">99</text>
<text class="bs" x="393" y="1452">98</text>
<text class="bs" x="432" y="1467">99</text>
<text class="bs" x="280" y="1496">99</text>
<text class="bs" x="484" y="627">88</text>
<text class="bs" x="486" y="313">58</text>
<text class="bs" x="492" y="326">96</text>
<text class="bs" x="472" y="416">93</text>
<text class="bs" x="459" y="466">99</text>
<text class="bs" x="482" y="462">84</text>
<text class="bs" x="469" y="491">92</text>
<text class="bs" x="481" y="603">93</text>
<text class="bs" x="300" y="1329">45</text>
<text class="bs" x="971" y="536">95</text>
<text class="bs" x="991" y="565">100</text>
<text class="bs" x="959" y="573">62</text>
<text class="bs" x="987" y="593">100</text>
<text class="bs" x="947" y="610">83</text>
<text class="bs" x="971" y="633">92</text>
<text class="bs" x="1013" y="660">100</text>
<text class="bs" x="929" y="668">100</text>
<text class="bs" x="981" y="681">100</text>
<text class="bs" x="963" y="737">98</text>
<text class="bs" x="985" y="766">99</text>
<text class="bs" x="1025" y="755">57</text>
<text class="bs" x="1016" y="797">88</text>
<text class="bs" x="871" y="852">97</text>
<text class="bs" x="974" y="997">100</text>
<text class="bs" x="943" y="1041">100</text>
<text class="bs" x="889" y="1052">89</text>
<text class="bs" x="930" y="1069">99</text>
<text class="bs" x="921" y="1122">99</text>
<text class="bs" x="921" y="1149">100</text>
<text class="bs" x="885" y="1163">98</text>
<text class="bs" x="899" y="1205">96</text>
<text class="bs" x="812" y="1087">100</text>
<text class="bs" x="877" y="1218">100</text>
<text class="bs" x="817" y="1273">93</text>
<text class="bs" x="957" y="1286">100</text>
<text class="bs" x="946" y="1325">81</text>
<text class="bs" x="933" y="1335">99</text>
<text class="bs" x="799" y="1349">92</text>
<text class="bs" x="881" y="1394">100</text>
<text class="bs" x="953" y="1401">86</text>
<text class="bs" x="994" y="1435">100</text>
<text class="bs" x="1021" y="1473">100</text>
<text class="bs" x="990" y="369">99</text>
<text class="bs" x="1011" y="330">85</text>
<text class="bs" x="1005" y="491">82</text>
<text class="bs" x="1001" y="284">8</text>
</g>
</svg>
</body></html>
